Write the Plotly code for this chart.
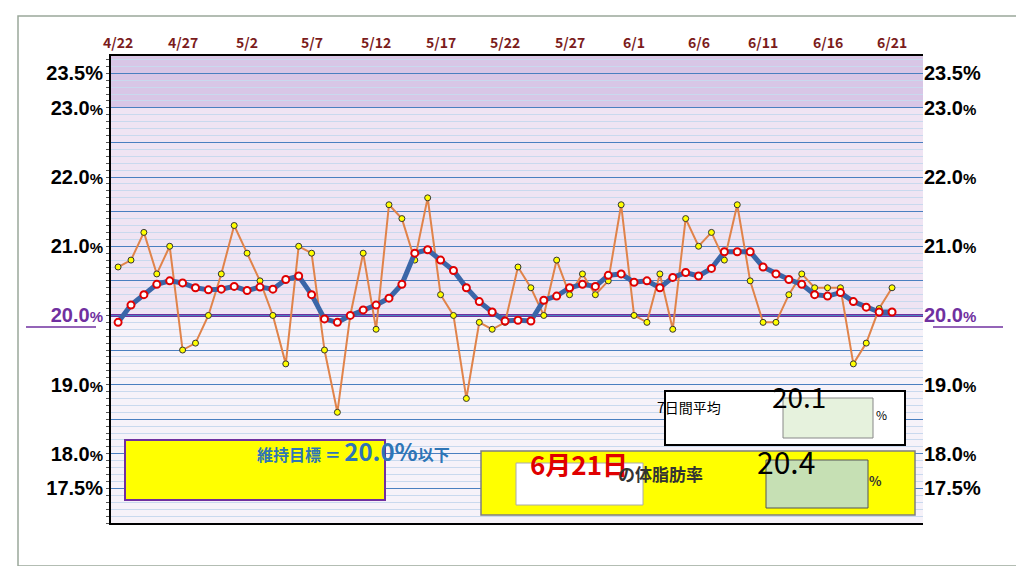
import plotly.graph_objects as go

# 4/22 .. 6/21 (61 days)
days = list(range(61))
x_tick_days = [0, 5, 10, 15, 20, 25, 30, 35, 40, 45, 50, 55, 60]
x_tick_labels = ["4/22", "4/27", "5/2", "5/7", "5/12", "5/17", "5/22", "5/27",
                 "6/1", "6/6", "6/11", "6/16", "6/21"]

daily = [20.7, 20.8, 21.2, 20.6, 21.0, 19.5, 19.6, 20.0, 20.6, 21.3,
         20.9, 20.5, 20.0, 19.3, 21.0, 20.9, 19.5, 18.6, 20.0, 20.9,
         19.8, 21.6, 21.4, 20.8, 21.7, 20.3, 20.0, 18.8, 19.9, 19.8,
         19.9, 20.7, 20.4, 20.0, 20.8, 20.3, 20.6, 20.3, 20.5, 21.6,
         20.0, 19.9, 20.6, 19.8, 21.4, 21.0, 21.2, 20.8, 21.6, 20.5,
         19.9, 19.9, 20.3, 20.6, 20.4, 20.4, 20.4, 19.3, 19.6, 20.1, 20.4]

avg7 = [19.9, 20.15, 20.3, 20.45, 20.5, 20.47, 20.4, 20.37, 20.38, 20.42,
        20.36, 20.41, 20.38, 20.52, 20.57, 20.3, 19.95, 19.9, 20.0, 20.08,
        20.15, 20.25, 20.45, 20.9, 20.95, 20.8, 20.65, 20.4, 20.2, 20.05,
        19.92, 19.93, 19.92, 20.22, 20.28, 20.4, 20.45, 20.42, 20.58, 20.6,
        20.48, 20.5, 20.4, 20.55, 20.62, 20.57, 20.68, 20.92, 20.92, 20.92,
        20.7, 20.6, 20.52, 20.45, 20.3, 20.28, 20.33, 20.2, 20.12, 20.05, 20.05]

y_tick_vals = [17.0 + 0.5 * i for i in range(14)]
y_labeled = {23.5: "23.5%", 23.0: "23.0", 22.0: "22.0", 21.0: "21.0",
             20.0: "20.0", 19.0: "19.0", 18.0: "18.0", 17.5: "17.5%"}

target = 20.0
avg_now = "20.1"
today_label = "6月21日"
today_value = "20.4"


def ytext(v):
    if v not in y_labeled:
        return ""
    t = y_labeled[v]
    if v in (23.5, 17.5):
        return "<b>" + t + "</b>"
    color = "#7030a0" if v == 20.0 else "black"
    return ("<b><span style='color:%s'>%s</span></b><span style='font-size:15px;color:%s'><b>%%</b></span>"
            % (color, t, color))


y_tick_text = [ytext(v) for v in y_tick_vals]

fig = go.Figure()
fig.add_trace(go.Scatter(x=days, y=daily, mode="lines+markers",
                         line=dict(color="#e0834a", width=2),
                         marker=dict(color="#ffff00", size=6, line=dict(color="#333", width=1))))
fig.add_trace(go.Scatter(x=days, y=avg7, mode="lines+markers",
                         line=dict(color="#3a66a8", width=5),
                         marker=dict(color="white", size=7, line=dict(color="#e00000", width=2))))
# invisible trace for the right axis
fig.add_trace(go.Scatter(x=[0], y=[20], yaxis="y2", mode="markers",
                         marker=dict(opacity=0), hoverinfo="skip"))


def px(x):
    return (x - 103) / 812


def py(y):
    return (515 - y) / 467


shapes = [
    dict(type="rect", xref="paper", yref="paper", x0=px(10), x1=px(1012), y0=py(558), y1=py(8),
         line=dict(color="#9aa89a", width=1.5), layer="below"),
    dict(type="rect", xref="paper", yref="y", x0=0, x1=1, y0=23.0, y1=23.75,
         fillcolor="#d8c6e6", line_width=0, layer="below"),
    dict(type="rect", xref="paper", yref="y", x0=0, x1=1, y0=20.0, y1=23.0,
         fillcolor="#efe4f3", line_width=0, layer="below"),
    dict(type="rect", xref="paper", yref="y", x0=0, x1=1, y0=17.0, y1=20.0,
         fillcolor="#f6f2f9", line_width=0, layer="below"),
    dict(type="line", xref="paper", yref="y", x0=0, x1=1, y0=target, y1=target,
         line=dict(color="#7030a0", width=3), layer="below"),
    dict(type="line", xref="paper", yref="paper", x0=px(18), x1=px(88), y0=py(319), y1=py(319),
         line=dict(color="#7030a0", width=1.5)),
    dict(type="line", xref="paper", yref="paper", x0=px(925), x1=px(995), y0=py(319), y1=py(319),
         line=dict(color="#7030a0", width=1.5)),
    # 7-day average box
    dict(type="rect", xref="paper", yref="paper", x0=px(657), x1=px(897), y0=py(437), y1=py(383),
         fillcolor="white", line=dict(color="black", width=2)),
    dict(type="rect", xref="paper", yref="paper", x0=px(775), x1=px(865), y0=py(430), y1=py(390),
         fillcolor="#e6f2dd", line=dict(color="#888", width=1)),
    # today box
    dict(type="rect", xref="paper", yref="paper", x0=px(473), x1=px(907), y0=py(507), y1=py(443),
         fillcolor="#ffff00", line=dict(color="#7f7f7f", width=1.5)),
    dict(type="rect", xref="paper", yref="paper", x0=px(508), x1=px(635), y0=py(497), y1=py(455),
         fillcolor="white", line=dict(color="#aaa", width=1)),
    dict(type="rect", xref="paper", yref="paper", x0=px(758), x1=px(860), y0=py(500), y1=py(452),
         fillcolor="#c6e0b4", line=dict(color="#555", width=1)),
    # target box
    dict(type="rect", xref="paper", yref="paper", x0=px(117), x1=px(377), y0=py(492), y1=py(432),
         fillcolor="#ffff00", line=dict(color="#7030a0", width=2)),
]

ann = [dict(x=d, y=1.005, xref="x", yref="paper", text="<b>" + t + "</b>", showarrow=False,
            yanchor="bottom", font=dict(color="#7b1c1c", size=14))
       for d, t in zip(x_tick_days, x_tick_labels)]
ann += [
    dict(x=px(715), y=py(411), text="7日間平均", font=dict(size=14, color="black")),
    dict(x=px(820), y=py(410), text=avg_now, font=dict(size=28, color="black")),
    dict(x=px(881), y=py(417), text="%", font=dict(size=12, color="black")),
    dict(x=px(571), y=py(476), text="<b>" + today_label + "</b>", font=dict(size=26, color="#e00000")),
    dict(x=px(697), y=py(480), text="<b>の体脂肪率</b>", font=dict(size=17, color="#333")),
    dict(x=px(809), y=py(477), text=today_value, font=dict(size=30, color="black")),
    dict(x=px(876), y=py(484), text="<b>%</b>", font=dict(size=13, color="#333")),
    dict(x=px(247), y=py(462), text="<b>維持目標 ＝ <span style='font-size:24px'>20.0%</span>以下</b>",
         font=dict(size=16, color="#2e75b6")),
]
for a in ann[len(x_tick_days):]:
    a.update(xref="paper", yref="paper", showarrow=False)

fig.update_layout(
    width=1024, height=566,
    margin=dict(l=103, r=109, t=48, b=51),
    paper_bgcolor="white", plot_bgcolor="white",
    showlegend=False,
    font=dict(family="Noto Sans CJK JP, Arial", color="black"),
    shapes=shapes, annotations=ann,
    xaxis=dict(range=[-0.55, 62.4], showticklabels=False, showgrid=False, zeroline=False,
               showline=True, linecolor="black", linewidth=1.5, mirror=True),
    yaxis=dict(range=[17.0, 23.75], tickvals=y_tick_vals, ticktext=y_tick_text,
               showgrid=True, gridcolor="#4a7fc0", gridwidth=1.2, zeroline=False,
               tickfont=dict(size=20, family="Arial"), ticks="", ticklabelstandoff=2,
               showline=True, linecolor="black", linewidth=2,
               minor=dict(dtick=0.1, tick0=17.0, showgrid=True, gridcolor="#c9d9ee", gridwidth=1,
                          ticks="outside", ticklen=3, tickcolor="#555")),
    yaxis2=dict(range=[17.0, 23.75], overlaying="y", side="right", tickvals=y_tick_vals,
                ticktext=y_tick_text, showgrid=False, zeroline=False, ticks="",
                tickfont=dict(size=20, family="Arial")),
)

fig.write_html("out.html")
